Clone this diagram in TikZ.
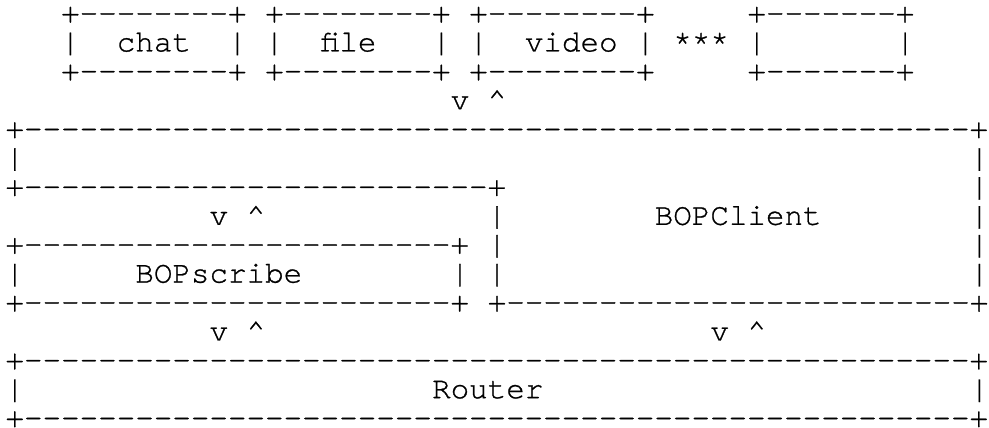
\documentclass[tikz,border=0pt]{standalone}
\usepackage{fontspec}
\newfontfamily\ascfont{TeX Gyre Cursor}[Ligatures=TeXOff, FakeBold=0.8]
\ExplSyntaxOn
\cs_new:Npn \dashrun #1 { \prg_replicate:nn {#1} {-} }
\ExplSyntaxOff
\begin{document}
\begin{tikzpicture}[x=1pt, y=-1pt,
  ascii/.style={font=\ascfont\fontsize{30.9}{30.9}\selectfont, anchor=base west,
    inner sep=0pt, outer sep=0pt, text height=14pt, text depth=0pt, text=black}]
\useasboundingbox (0,0) rectangle (989,428);
\foreach \r/\c/\t in {
  1/3/{+\dashrun{8}+}, 1/14/{+\dashrun{8}+}, 1/25/{+\dashrun{8}+}, 1/40/{+\dashrun{7}+},
  2/3/|, 2/6/chat, 2/12/|, 2/14/|, 2/17/file, 2/23/|, 2/25/|, 2/28/video, 2/34/|,
  2/36/***, 2/40/|, 2/48/|,
  3/3/{+\dashrun{8}+}, 3/14/{+\dashrun{8}+}, 3/25/{+\dashrun{8}+}, 3/40/{+\dashrun{7}+},
  4/24/v, 4/26/\textasciicircum,
  5/0/{+\dashrun{51}+},
  6/0/|, 6/52/|,
  7/0/{+\dashrun{25}+}, 7/52/|,
  8/11/v, 8/13/\textasciicircum, 8/26/|, 8/35/BOPClient, 8/52/|,
  9/0/{+\dashrun{23}+}, 9/26/|, 9/52/|,
  10/0/|, 10/7/BOPscribe, 10/24/|, 10/26/|, 10/52/|,
  11/0/{+\dashrun{23}+}, 11/26/{+\dashrun{25}+},
  12/11/v, 12/13/\textasciicircum, 12/38/v, 12/40/\textasciicircum,
  13/0/{+\dashrun{51}+},
  14/0/|, 14/23/Router, 14/52/|,
  15/0/{+\dashrun{51}+}}
{
  \node[ascii, name=t\r-\c] at ({5.5+\c*18.55}, {14.5+(\r-1)*28.9+8}) {\t};
}
\end{tikzpicture}
\end{document}
